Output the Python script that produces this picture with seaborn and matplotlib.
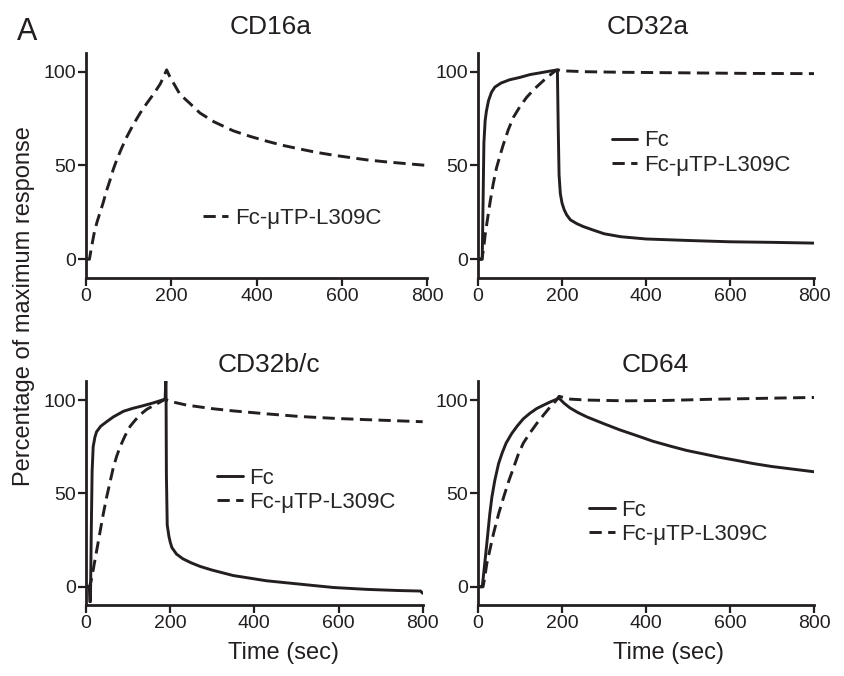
import matplotlib
matplotlib.use("Agg")
import matplotlib.pyplot as plt
import seaborn as sns

# CD16a, Fc-uTP-L309C only
cd16a_t = [0, 8, 11, 15, 20, 26, 33, 40, 48, 56, 64, 72, 83, 95, 110, 127, 142, 158, 174, 189,
           195, 205, 220, 244, 267, 300, 345, 385, 423, 460, 501, 540, 580, 620, 658, 700, 750, 800]
cd16a_mut = [0, 0, 4, 9, 15, 20, 25, 30, 36.5, 42, 48, 53, 59, 65, 71.5, 78, 83, 88, 93.5, 101,
             98, 94, 88, 83, 78, 73.3, 68.5, 65.5, 63, 60.8, 58.8, 57, 55.5, 54.2, 53, 52, 51, 50]

# CD32a
cd32a_fc_t = [0, 10, 12, 14, 17, 20, 25, 32, 40, 55, 75, 100, 124, 150, 170, 189, 191, 193, 196, 200,
              205, 211, 220, 235, 251, 275, 300, 340, 400, 500, 600, 700, 800]
cd32a_fc = [0, 0, 30, 62, 74, 79, 84.6, 89, 91.8, 94, 95.7, 97, 98.5, 99.5, 100.3, 101, 70, 45, 35, 30,
            26.5, 23.7, 21, 19, 17.4, 15.5, 13.6, 12, 10.8, 10, 9.3, 9, 8.6]
cd32a_mut_t = [0, 9, 13, 17, 23, 29, 36, 44, 52, 60, 72, 84, 100, 116, 135, 156, 170, 183, 190, 200,
               259, 350, 450, 550, 650, 800]
cd32a_mut = [0, 0, 5, 13, 22, 30.8, 40, 48.7, 55, 61, 69, 75.6, 81.5, 86.4, 91, 95.3, 98, 100.3, 101, 100.5,
             100, 99.7, 99.5, 99.3, 99.1, 99]

# CD32b/c
cd32b_fc_t = [0, 8, 9, 10.5, 12.5, 14.5, 17, 21, 25, 35, 49, 65, 89, 110, 136, 160, 188, 190, 191, 193,
              197, 200, 204, 215, 230, 250, 271, 300, 350, 429, 508, 588, 667, 740, 795, 800]
cd32b_fc = [0, 0, -8, -8, 30, 62, 75, 80, 83, 86, 88.4, 91, 94, 95.5, 97, 98.5, 100.5, 115, 60, 33,
            27, 24, 21, 17.5, 15, 12.8, 10.9, 8.9, 6.0, 3.2, 1.4, -0.4, -1.4, -2, -2.3, -3.5]
cd32b_mut_t = [0, 8, 12, 17, 25, 33, 41, 49, 57, 65, 73, 81, 93, 105, 116, 128, 144, 160, 175, 188,
               200, 239, 300, 350, 430, 508, 590, 667, 740, 800]
cd32b_mut = [0, 0, 3, 9, 19, 29, 39, 48, 56, 64, 70, 75, 81, 86, 89, 92, 95, 97, 98.8, 100.4,
             99.3, 97.3, 95.4, 94.2, 92.6, 91.2, 90.2, 89.5, 88.9, 88.4]

# CD64
cd64_fc_t = [0, 10, 13, 16, 20, 24, 28, 33, 40, 49, 58, 67, 80, 93, 108, 124, 140, 156, 172, 188, 193,
             205, 219, 238, 259, 300, 338, 380, 417, 460, 497, 540, 576, 620, 655, 700, 750, 800]
cd64_fc = [0, 0, 6, 12.5, 21, 30, 39, 48, 57, 66, 72, 77, 82, 86, 90, 93, 95.5, 97.3, 99, 100.5, 101,
           98.3, 95.8, 93.3, 91, 87.3, 84, 80.8, 77.9, 75.2, 73, 71, 69.3, 67.5, 66, 64.4, 63, 61.6]
cd64_mut_t = [0, 12, 16, 21, 29, 37, 49, 61, 73, 85, 96, 108, 124, 140, 156, 172, 185, 193, 220, 259,
              350, 450, 550, 650, 720, 800]
cd64_mut = [0, 0, 5, 12.5, 20.5, 28.6, 39, 48, 56.5, 64, 71, 77, 82.5, 87.5, 92, 96.4, 99.5, 102, 100.5, 100,
            99.6, 99.8, 100.4, 100.8, 101.1, 101.4]

INK = "#231f20"
DASH = (0, (4.2, 2.2))

sns.set_style("ticks")
plt.rcParams["font.family"] = ["Liberation Sans", "DejaVu Sans"]

fig = plt.figure(figsize=(8.45, 6.76), dpi=100)

panels = [
    # title, axes rect, title pos, legend pos, series
    ("CD16a", [0.1018, 0.5888, 0.4039, 0.3328], (0.320, 0.960), (0.240, 0.6775),
     [(cd16a_t, cd16a_mut, "Fc-\u03bcTP-L309C", DASH)]),
    ("CD32a", [0.5657, 0.5888, 0.3976, 0.3328], (0.767, 0.960), (0.724, 0.7737),
     [(cd32a_fc_t, cd32a_fc, "Fc", "-"), (cd32a_mut_t, cd32a_mut, "Fc-\u03bcTP-L309C", DASH)]),
    ("CD32b/c", [0.1018, 0.1044, 0.3984, 0.3314], (0.318, 0.460), (0.257, 0.2744),
     [(cd32b_fc_t, cd32b_fc, "Fc", "-"), (cd32b_mut_t, cd32b_mut, "Fc-\u03bcTP-L309C", DASH)]),
    ("CD64", [0.5657, 0.1044, 0.3976, 0.3314], (0.775, 0.460), (0.697, 0.2271),
     [(cd64_fc_t, cd64_fc, "Fc", "-"), (cd64_mut_t, cd64_mut, "Fc-\u03bcTP-L309C", DASH)]),
]

for title, rect, tpos, lpos, series in panels:
    ax = fig.add_axes(rect)
    for t, v, lab, ls in series:
        sns.lineplot(x=t, y=v, ax=ax, color=INK, linewidth=2.1, linestyle=ls,
                     label=lab, estimator=None, sort=False)
    ax.set_xlim(0, 800)
    ax.set_ylim(-10, 110)
    ax.set_xticks([0, 200, 400, 600, 800])
    ax.set_yticks([0, 50, 100])
    ax.set_xlabel("")
    ax.set_ylabel("")
    sns.despine(ax=ax)
    for s in ["left", "bottom"]:
        ax.spines[s].set_linewidth(2.0)
        ax.spines[s].set_color(INK)
    ax.tick_params(length=5.5, width=1.6, pad=1.5, labelsize=14, colors=INK)
    ax.legend(loc="center left", bbox_to_anchor=lpos, bbox_transform=fig.transFigure,
              frameon=False, fontsize=16, handlelength=1.15, handletextpad=0.3,
              borderpad=0, borderaxespad=0, labelspacing=0.15)
    fig.text(tpos[0], tpos[1], title, ha="center", va="center", fontsize=19, color=INK)

fig.text(0.032, 0.953, "A", ha="center", va="center", fontsize=22, color=INK)
fig.text(0.028, 0.5466, "Percentage of maximum response", rotation=90,
         ha="center", va="center", fontsize=17, color=INK)
fig.text(0.335, 0.034, "Time (sec)", ha="center", va="center", fontsize=17, color=INK)
fig.text(0.791, 0.034, "Time (sec)", ha="center", va="center", fontsize=17, color=INK)

fig.savefig("out.png", dpi=100)
